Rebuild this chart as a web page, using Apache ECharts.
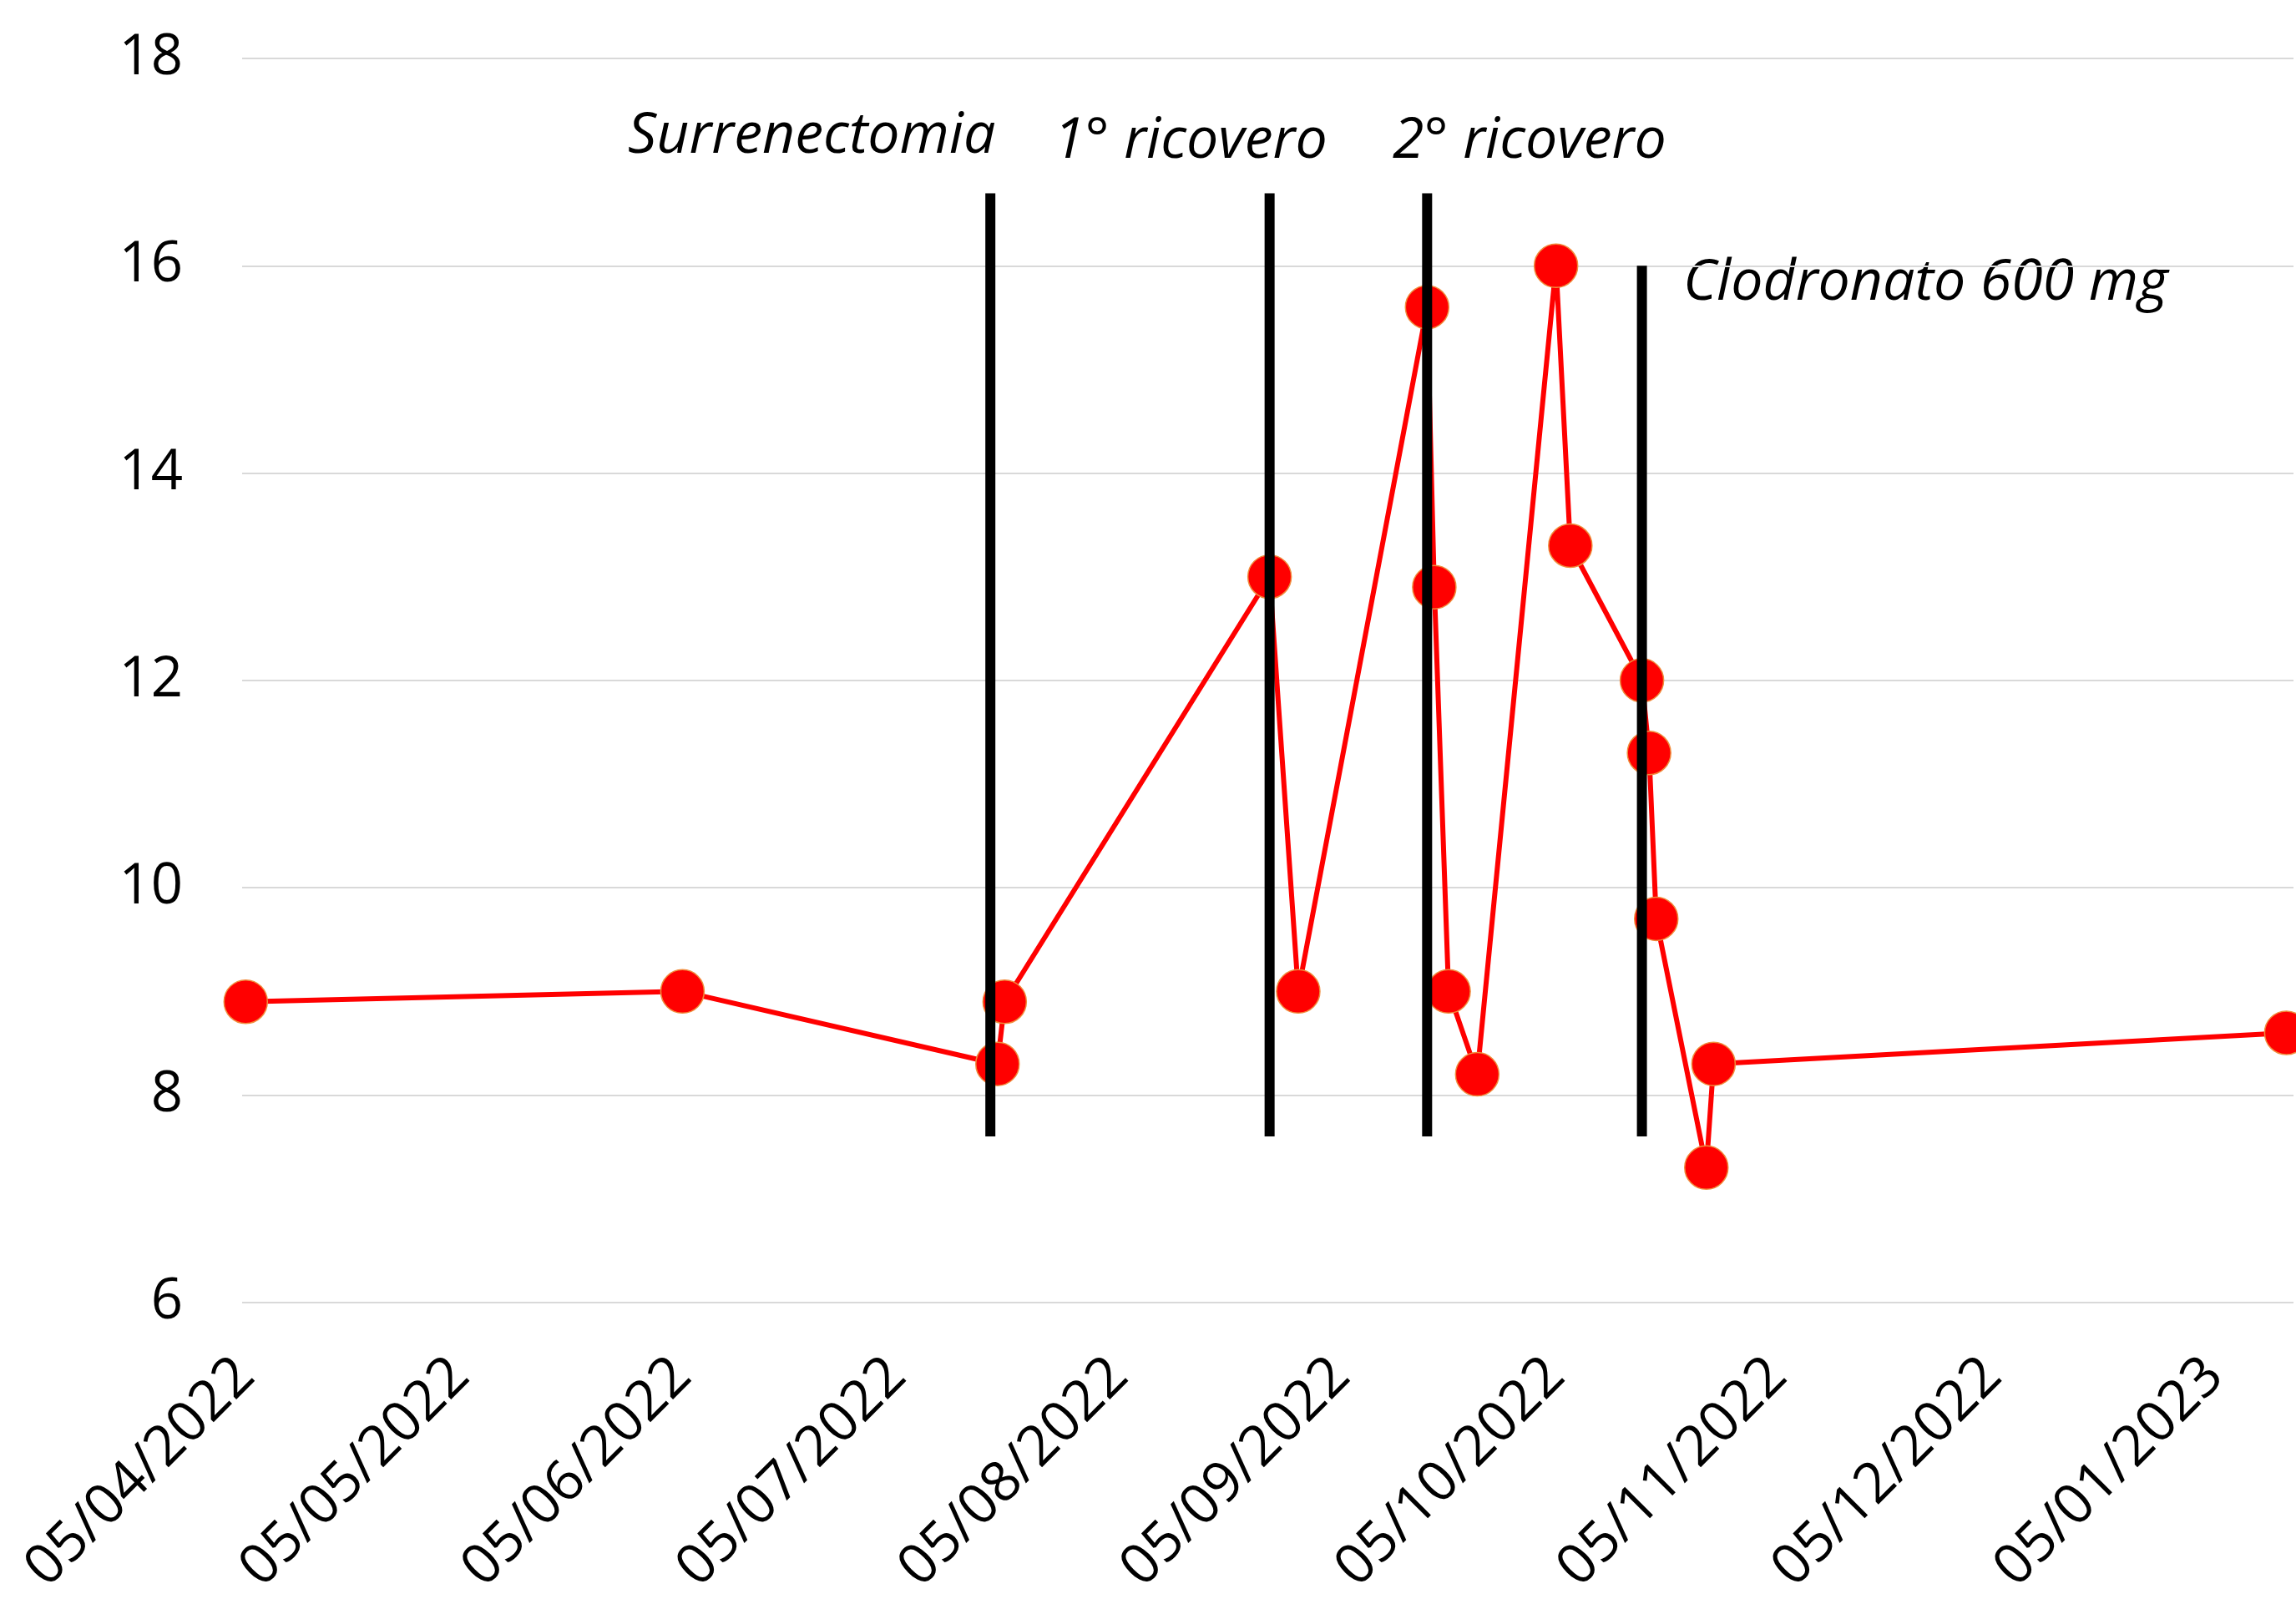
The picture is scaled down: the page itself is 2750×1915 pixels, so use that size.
<!DOCTYPE html>
<html>
<head>
    <meta charset="utf-8">
    <title>Andamento</title>
    <script src="https://cdn.jsdelivr.net/npm/echarts@6.0.0/dist/echarts.min.js"></script>
    <style>
        html, body { margin: 0; padding: 0; background: #fff; }
        #main { width: 2750px; height: 1915px; }
    </style>
</head>
<body>
<div id="main"></div>
<script type="text/javascript">
    // date dei prelievi e valori
    var dates = ['2022-04-05', '2022-06-05', '2022-07-19', '2022-07-20', '2022-08-26', '2022-08-30',
        '2022-09-17', '2022-09-18', '2022-09-20', '2022-09-24', '2022-10-05', '2022-10-07',
        '2022-10-17', '2022-10-18', '2022-10-19', '2022-10-26', '2022-10-27', '2023-01-15'];
    var values = [8.9, 9.0, 8.3, 8.9, 13.0, 9.0, 15.6, 12.9, 9.0, 8.2, 16.0, 13.3, 12.0, 11.3, 9.7, 7.3, 8.3, 8.6];

    // etichette asse x (dd/mm/yyyy)
    var tickLabels = ['05/04/2022', '05/05/2022', '05/06/2022', '05/07/2022', '05/08/2022',
        '05/09/2022', '05/10/2022', '05/11/2022', '05/12/2022', '05/01/2023'];

    // eventi (linee verticali)
    var eventNames = ['Surrenectomia', '1° ricovero', '2° ricovero', 'Clodronato 600 mg'];
    var eventDates = ['2022-07-18', '2022-08-26', '2022-09-17', '2022-10-17'];
    var eventTop = [16.7, 16.7, 16.7, 16.0];
    var eventBottom = [7.6, 7.6, 7.6, 7.6];

    var DAY = 86400000;
    // giorni dal 05/04/2022 (asse numerico in giorni)
    var origin = Date.UTC(2022, 3, 5);
    function dayIso(s) {
        var p = s.split('-');
        return Math.round((Date.UTC(+p[0], +p[1] - 1, +p[2]) - origin) / DAY);
    }
    function dayLabel(s) {
        var p = s.split('/');
        return Math.round((Date.UTC(+p[2], +p[1] - 1, +p[0]) - origin) / DAY);
    }

    var tickDays = tickLabels.map(dayLabel);
    var seriesData = dates.map(function (d, i) { return [dayIso(d), values[i]]; });

    var font = '"Open Sans", "Noto Sans", sans-serif';
    var noteFont = 'italic 68px ' + font;

    var series = [{
        type: 'line',
        data: seriesData,
        symbol: 'circle',
        symbolSize: 52,
        itemStyle: { color: '#ff0000', borderColor: '#f08c3c', borderWidth: 1.5 },
        lineStyle: { color: '#ff0000', width: 6 },
        clip: false,
        z: 2
    }];

    eventDates.forEach(function (d, i) {
        var t = dayIso(d);
        series.push({
            type: 'line',
            data: [[t, eventTop[i]], [t, eventBottom[i]]],
            symbol: 'none',
            lineStyle: { color: '#000', width: 12 },
            z: 5
        });
    });

    var myChart = echarts.init(document.getElementById('main'));

    var option = {
        backgroundColor: '#fff',
        animation: false,
        grid: { left: 290, right: 3, top: 70, bottom: 343 },
        xAxis: {
            type: 'value',
            min: -0.5,
            max: 286,
            axisLine: { show: false },
            axisTick: { show: false },
            splitLine: { show: false },
            axisLabel: {
                customValues: tickDays,
                rotate: 45,
                margin: 78,
                fontSize: 67,
                fontFamily: font,
                color: '#000',
                hideOverlap: false,
                formatter: function (v) {
                    var i = tickDays.indexOf(v);
                    return i >= 0 ? tickLabels[i] : '';
                }
            }
        },
        yAxis: {
            type: 'value',
            min: 6,
            max: 18,
            interval: 2,
            axisLine: { show: false },
            axisTick: { show: false },
            splitLine: { lineStyle: { color: '#d9d9d9', width: 2 } },
            axisLabel: { fontSize: 67, fontFamily: font, color: '#000', margin: 71 }
        },
        graphic: [
            { type: 'text', x: 752, y: 164, style: { text: eventNames[0], font: noteFont, fill: '#000', verticalAlign: 'middle' } },
            { type: 'text', x: 1262, y: 170, style: { text: eventNames[1], font: noteFont, fill: '#000', verticalAlign: 'middle' } },
            { type: 'text', x: 1668, y: 170, style: { text: eventNames[2], font: noteFont, fill: '#000', verticalAlign: 'middle' } },
            { type: 'text', x: 2016, y: 340, style: { text: eventNames[3], font: noteFont, fill: '#000', verticalAlign: 'middle' } }
        ],
        series: series
    };

    myChart.setOption(option);
</script>
</body>
</html>
